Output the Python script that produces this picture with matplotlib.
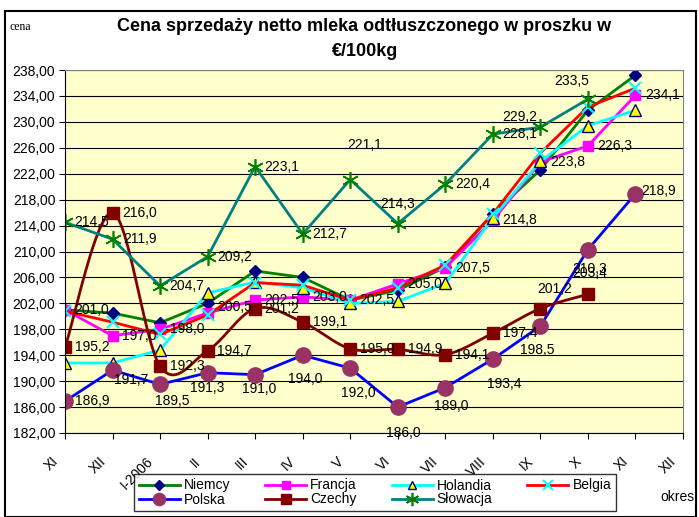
import numpy as np
import matplotlib.pyplot as plt
import matplotlib.transforms as mtransforms
from matplotlib.patches import Rectangle

plt.rcParams['font.family'] = ['Liberation Sans', 'DejaVu Sans']

months = ["XI", "XII", "I-2006", "II", "III", "IV", "V", "VI", "VII", "VIII", "IX", "X", "XI", "XII"]

niemcy = [201.0, 200.5, 199.0, 202.0, 207.0, 206.0, 202.5, 204.0, 207.6, 215.8, 222.6, 231.8, 237.2]
francja = [201.0, 197.0, 198.0, 200.5, 202.5, 203.0, 202.5, 205.0, 207.5, 214.8, 223.8, 226.3, 234.1]
holandia = [192.8, 192.8, 194.8, 203.6, 205.3, 204.4, 202.0, 202.3, 205.1, 215.2, 223.9, 229.4, 231.8]
belgia = [200.8, 199.1, 197.2, 200.2, 205.2, 204.8, 202.5, 204.4, 207.9, 215.8, 225.2, 232.3, 235.2]
polska = [186.9, 191.7, 189.5, 191.3, 191.0, 194.0, 192.0, 186.0, 189.0, 193.4, 198.5, 210.3, 218.9]
czechy = [195.2, 216.0, 192.3, 194.7, 201.2, 199.1, 195.0, 194.9, 194.1, 197.4, 201.2, 203.4]
slowacja = [214.5, 211.9, 204.7, 209.2, 223.1, 212.7, 221.1, 214.3, 220.4, 228.1, 229.2, 233.5]

# label offsets in pixels (dx right, dy down), default is (27, 0)
off_francja = {3: (27, -6)}
off_polska = {1: (19, 10), 2: (12, 17), 3: (0, 15), 4: (4, 14), 5: (3, 24), 6: (8, 25),
              7: (6, 26), 8: (6, 18), 9: (11, 25), 10: (-3, 24), 11: (2, 19), 12: (23, -3)}
off_czechy = {10: (14, -20), 11: (2, -21)}
off_slowacja = {6: (14, -35), 7: (0, -20), 10: (-21, -10), 11: (-16, -18)}


def smooth(xs, ys, n=25):
    # excel-like smoothed line (catmull-rom as bezier)
    P = np.column_stack([xs, ys]).astype(float)
    out = [P[0]]
    t = np.linspace(0, 1, n)[1:, None]
    for i in range(len(P) - 1):
        p0 = P[i - 1] if i > 0 else P[i]
        p1, p2 = P[i], P[i + 1]
        p3 = P[i + 2] if i + 2 < len(P) else P[i + 1]
        c1 = p1 + (p2 - p0) / 6
        c2 = p2 - (p3 - p1) / 6
        seg = (1 - t) ** 3 * p1 + 3 * (1 - t) ** 2 * t * c1 + 3 * (1 - t) * t ** 2 * c2 + t ** 3 * p2
        out.extend(seg)
    return np.array(out)


fig = plt.figure(figsize=(6.99, 5.17), dpi=100)
ax = fig.add_axes([65 / 699, 1 - 433 / 517, 618 / 699, 363 / 517])
ax.set_facecolor('#FFFFCC')

lw = 2.0
h_ni, = ax.plot(range(13), niemcy, color='#008000', lw=lw, marker='D', ms=6, mfc='#000080', mec='#000080', label='Niemcy')
h_fr, = ax.plot(range(13), francja, color='#FF00FF', lw=lw, marker='s', ms=7, mfc='#FF00FF', mec='#FF00FF', label='Francja')
h_ho, = ax.plot(range(13), holandia, color='#00FFFF', lw=lw, marker='^', ms=8, mfc='#FFFF00', mec='#000080', mew=1, label='Holandia')
h_be, = ax.plot(range(13), belgia, color='#FF0000', lw=lw, marker='x', ms=9, mec='#00FFFF', mew=1.5, label='Belgia')
h_po, = ax.plot(range(13), polska, color='#0000FF', lw=lw, marker='o', ms=11, mfc='#993366', mec='#993366', label='Polska')
cz = smooth(np.arange(12), czechy)
ax.plot(cz[:, 0], cz[:, 1], color='#800000', lw=lw)
ax.plot(range(12), czechy, ls='none', marker='s', ms=9, mfc='#800000', mec='#800000')
h_cz, = ax.plot([], [], color='#800000', lw=lw, marker='s', ms=9, mfc='#800000', mec='#800000', label='Czechy')
h_sl, = ax.plot(range(12), slowacja, color='#008080', lw=lw, marker=(6, 2, 0), ms=12, mec='#008000', mew=1.2, label='Słowacja')

lab_font = dict(family=['Liberation Sans Narrow', 'Liberation Sans'], size=10)
for vals, offs in [(francja, off_francja), (polska, off_polska), (czechy, off_czechy), (slowacja, off_slowacja)]:
    for i, v in enumerate(vals):
        dx, dy = offs.get(i, (27, 0))
        ax.annotate(f"{v:.1f}".replace('.', ','), (i, v), xytext=(dx * 0.72, -dy * 0.72),
                    textcoords='offset points', ha='center', va='center', zorder=10, **lab_font)

ax.set_xlim(0, 13)
ax.set_ylim(182, 238)
ax.set_yticks(np.arange(182, 239, 4))
ax.set_yticklabels([f"{v:.2f}".replace('.', ',') for v in np.arange(182, 239, 4)], fontsize=10)
ax.set_xticks(range(14))
ax.set_xticklabels(months, rotation=45, ha='right', va='center', rotation_mode='anchor', fontsize=10)
ax.tick_params(axis='x', length=4, pad=15)
ax.tick_params(axis='y', length=4, pad=3)
shift = mtransforms.ScaledTranslation(-9 / 100, 0, fig.dpi_scale_trans)
for lab in ax.get_xticklabels():
    lab.set_transform(lab.get_transform() + shift)
ax.grid(axis='y', color='black', lw=0.8)
ax.set_axisbelow(True)
for s in ['top', 'right']:
    ax.spines[s].set_color('#808080')
for s in ['left', 'bottom']:
    ax.spines[s].set_color('black')

fig.text(364 / 699, 1 - 27 / 517, "Cena sprzedaży netto mleka odtłuszczonego w proszku w",
         ha='center', va='center', fontsize=13, fontweight='bold')
fig.text(365 / 699, 1 - 52 / 517, "€/100kg", ha='center', va='center', fontsize=13, fontweight='bold')
fig.text(10 / 699, 1 - 27 / 517, "cena", ha='left', va='center', fontsize=8.5, family='Liberation Serif')
fig.text(660 / 699, 1 - 497 / 517, "okres", ha='left', va='center', fontsize=10)

# column-major order so rows read Niemcy, Francja, Holandia, Belgia / Polska, Czechy, Słowacja
handles = [h_ni, h_po, h_fr, h_cz, h_ho, h_sl, h_be]
leg = fig.legend(handles=handles, labels=[h.get_label() for h in handles], loc='center',
                 bbox_to_anchor=(375 / 699, 1 - 492.5 / 517), ncol=4, fontsize=10, markerscale=0.8,
                 frameon=True, fancybox=False, edgecolor='black', handlelength=2.95, handletextpad=0.3,
                 columnspacing=2.5, labelspacing=0.0, borderpad=0.35, borderaxespad=0)
leg.get_frame().set_linewidth(1.0)

fig.patches.append(Rectangle((5 / 699, 0), 691 / 699, 1 - 11 / 517, transform=fig.transFigure,
                             fill=False, edgecolor='black', lw=1.5))

fig.savefig('out.png', dpi=100)
